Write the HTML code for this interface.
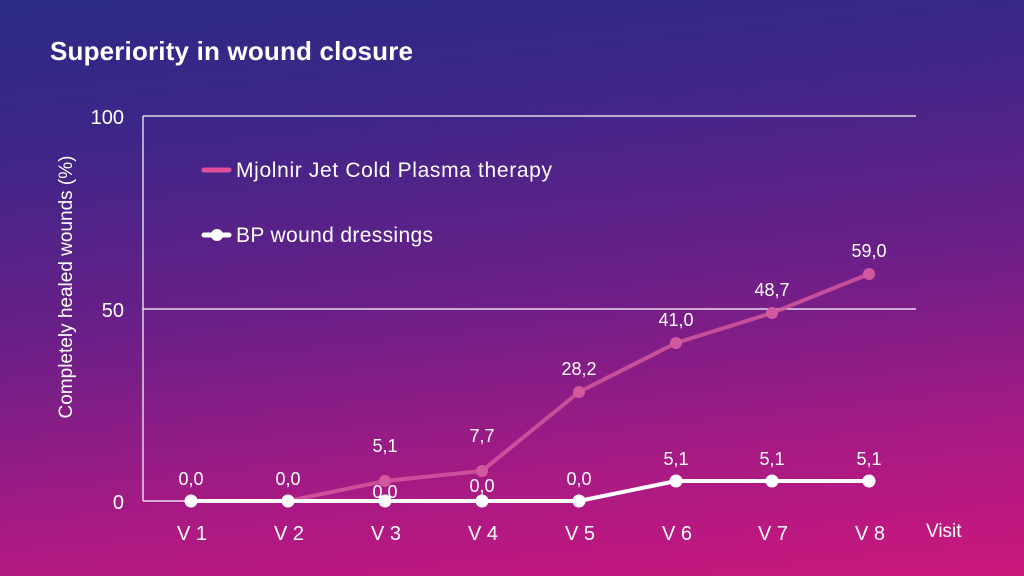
<!DOCTYPE html>
<html><head><style>
html,body{margin:0;padding:0;}
body{width:1024px;height:576px;overflow:hidden;background:linear-gradient(174deg,#2b2a86 0%,#3e2688 22%,#6a1f88 50%,#a81a84 78%,#cb177c 100%);font-family:"Liberation Sans",sans-serif;}
svg{position:absolute;left:0;top:0;}
</style></head><body>
<svg width="1024" height="576" xmlns="http://www.w3.org/2000/svg" font-family="Liberation Sans, sans-serif">
<text x="50" y="60" fill="#fff" font-size="26" font-weight="bold" textLength="363">Superiority in wound closure</text>
<line x1="143" y1="116" x2="916" y2="116" stroke="#fff" stroke-width="1.2"/>
<line x1="143" y1="309" x2="916" y2="309" stroke="#fff" stroke-width="1.2"/>
<line x1="143" y1="116" x2="143" y2="501" stroke="#fff" stroke-width="1.2"/>
<g fill="#fff" font-size="20" text-anchor="end">
<text x="124" y="124">100</text><text x="124" y="317">50</text><text x="124" y="509">0</text>
</g>
<text transform="translate(72,287) rotate(-90)" fill="#fff" font-size="19" text-anchor="middle">Completely healed wounds (%)</text>
<line x1="204" y1="170" x2="229" y2="170" stroke="#e24f9a" stroke-width="5" stroke-linecap="round"/>
<text x="236" y="177" fill="#fff" font-size="21" textLength="316">Mjolnir Jet Cold Plasma therapy</text>
<line x1="204" y1="235" x2="229" y2="235" stroke="#fff" stroke-width="5" stroke-linecap="round"/>
<circle cx="217" cy="235" r="6" fill="#fff"/>
<text x="236" y="242" fill="#fff" font-size="21" textLength="197">BP wound dressings</text>
<polyline points="191,501 288,501 385,481 482,471 579,392 676,343 772,313 869,274" fill="none" stroke="#d4589e" stroke-opacity="0.85" stroke-width="4"/>
<g fill="#d4589e">
<circle cx="385" cy="481" r="6"/><circle cx="482" cy="471" r="6"/><circle cx="579" cy="392" r="6"/><circle cx="676" cy="343" r="6"/><circle cx="772" cy="313" r="6"/><circle cx="869" cy="274" r="6"/>
</g>
<line x1="143" y1="501" x2="191" y2="501" stroke="#fff" stroke-width="1.2"/>
<polyline points="191,501 288,501 385,501 482,501 579,501 676,481 772,481 869,481" fill="none" stroke="#fff" stroke-width="4"/>
<g fill="#fff">
<circle cx="191" cy="501" r="6.5"/><circle cx="288" cy="501" r="6.5"/><circle cx="385" cy="501" r="6.5"/><circle cx="482" cy="501" r="6.5"/><circle cx="579" cy="501" r="6.5"/><circle cx="676" cy="481" r="6.5"/><circle cx="772" cy="481" r="6.5"/><circle cx="869" cy="481" r="6.5"/>
</g>
<g fill="#fff" font-size="18" text-anchor="middle">
<text x="385" y="452">5,1</text><text x="482" y="442">7,7</text><text x="579" y="375">28,2</text><text x="676" y="326">41,0</text><text x="772" y="296">48,7</text><text x="869" y="257">59,0</text>
<text x="191" y="485">0,0</text><text x="288" y="485">0,0</text><text x="385" y="498">0,0</text><text x="482" y="492">0,0</text><text x="579" y="485">0,0</text><text x="676" y="465">5,1</text><text x="772" y="465">5,1</text><text x="869" y="465">5,1</text>
</g>
<g fill="#fff" font-size="20" text-anchor="middle">
<text x="192" y="540">V 1</text><text x="289" y="540">V 2</text><text x="386" y="540">V 3</text><text x="483" y="540">V 4</text><text x="580" y="540">V 5</text><text x="677" y="540">V 6</text><text x="773" y="540">V 7</text><text x="870" y="540">V 8</text>
</g>
<text x="926" y="537" fill="#fff" font-size="19">Visit</text>
</svg>
</body></html>
